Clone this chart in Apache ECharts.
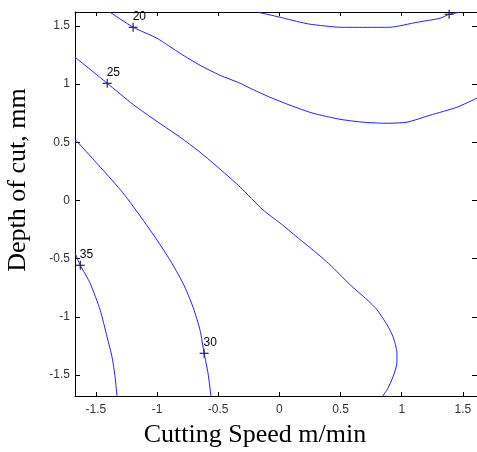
<!DOCTYPE html>
<html>
<head>
<meta charset="utf-8">
<script src="https://cdn.jsdelivr.net/npm/echarts@6/dist/echarts.min.js"></script>
<style>
html, body { margin: 0; padding: 0; background: #fff; }
#echarts { width: 477px; height: 452px; }
</style>
</head>
<body>
<div id="echarts"></div>
<script>
// tick positions (coded factor levels)
var xTicks = [-1.5, -1, -0.5, 0, 0.5, 1, 1.5];
var yTicks = [-1.5, -1, -0.5, 0, 0.5, 1, 1.5];

// contour lines [cutting speed, depth of cut]
var c15 = [[-0.174, 1.618], [0.006, 1.575], [0.140, 1.540], [0.251, 1.515], [0.496, 1.489], [0.700, 1.488], [0.904, 1.489],
    [1.126, 1.532], [1.314, 1.566], [1.387, 1.600], [1.477, 1.618]];
var c20 = [[-1.383, 1.618], [-1.195, 1.489], [-0.999, 1.394], [-0.811, 1.265], [-0.648, 1.162], [-0.484, 1.076],
    [-0.321, 1.008], [-0.239, 0.965], [-0.076, 0.887], [0.087, 0.819], [0.275, 0.750], [0.496, 0.698],
    [0.684, 0.673], [0.864, 0.664], [1.043, 0.673], [1.231, 0.733], [1.452, 0.802], [1.615, 0.880]];
var c25 = [[-1.669, 1.231], [-1.407, 1.008], [-1.195, 0.825], [-0.999, 0.679], [-0.811, 0.544], [-0.648, 0.415],
    [-0.484, 0.269], [-0.321, 0.116], [-0.133, -0.082], [0.006, -0.194], [0.144, -0.314],
    [0.275, -0.426], [0.414, -0.552], [0.578, -0.724], [0.717, -0.853], [0.798, -0.939], [0.880, -1.068],
    [0.929, -1.171], [0.961, -1.309], [0.961, -1.395], [0.929, -1.515], [0.880, -1.627], [0.839, -1.687]];
var c30 = [[-1.669, 0.525], [-1.462, 0.286], [-1.276, 0.063], [-1.113, -0.169], [-0.999, -0.341],
    [-0.893, -0.513], [-0.787, -0.711], [-0.705, -0.917], [-0.648, -1.115], [-0.615, -1.312], [-0.583, -1.484],
    [-0.558, -1.690]];
var c35 = [[-1.669, -0.453], [-1.627, -0.556], [-1.546, -0.711], [-1.464, -0.943], [-1.407, -1.175],
    [-1.367, -1.347], [-1.342, -1.519], [-1.326, -1.690]];

// contour labels [x, y, level]
var labelPts = [[-1.195, 1.489, '20'], [-1.407, 1.008, '25'], [-0.615, -1.312, '30'], [-1.627, -0.556, '35']];
// label mark whose text falls outside the frame
var cutMarks = [[1.387, 1.600, '']];

var lineColor = '#1f1fff';
var plusPath = 'path://M0,4H9V5H0Z M4,0H5V9H4Z';

function contour(d) {
    return {
        type: 'line',
        data: d,
        showSymbol: false,
        smooth: 0.2,
        lineStyle: { color: lineColor, width: 1 },
        silent: true
    };
}

function frameAxis(pos, lo, hi, ticks, tickLen, withLabels) {
    return {
        type: 'value', min: lo, max: hi, position: pos,
        axisLine: { onZero: false, lineStyle: { color: '#000', width: 1 } },
        axisTick: { inside: true, length: tickLen, customValues: ticks, lineStyle: { color: '#000' } },
        axisLabel: withLabels
            ? { customValues: ticks, margin: withLabels, fontFamily: 'Liberation Sans', fontSize: 12, color: '#333' }
            : { show: false },
        splitLine: { show: false }
    };
}

var myChart = echarts.init(document.getElementById('echarts'));
var option = {
    animation: false,
    backgroundColor: '#fff',
    grid: { left: 75, top: 12, right: 0, bottom: 56 },
    xAxis: [
        frameAxis('bottom', -1.67, 1.615, xTicks, 4, 8),
        frameAxis('top', -1.67, 1.615, xTicks, 4, 0)
    ],
    yAxis: [
        frameAxis('left', -1.68, 1.62, yTicks, 5, 5),
        frameAxis('right', -1.68, 1.62, yTicks, 5, 0)
    ],
    graphic: [{
        type: 'text', x: 255, y: 435,
        style: { text: 'Cutting Speed m/min', font: '26px "Liberation Serif"', fill: '#000', align: 'center', verticalAlign: 'middle' }
    }, {
        type: 'text', x: 18, y: 180, rotation: Math.PI / 2,
        style: { text: 'Depth of cut, mm', font: '26px "Liberation Serif"', fill: '#000', align: 'center', verticalAlign: 'middle' }
    }],
    series: [
        contour(c15), contour(c20), contour(c25), contour(c30), contour(c35),
        {
            type: 'scatter',
            data: labelPts.concat(cutMarks),
            symbol: plusPath,
            symbolSize: 9,
            itemStyle: { color: '#000', opacity: 1 },
            label: {
                show: true,
                position: [4, -12],
                formatter: function (p) { return p.value[2]; },
                fontFamily: 'Liberation Sans', fontSize: 12, color: '#000'
            },
            silent: true
        }
    ]
};
myChart.setOption(option);
</script>
</body>
</html>
